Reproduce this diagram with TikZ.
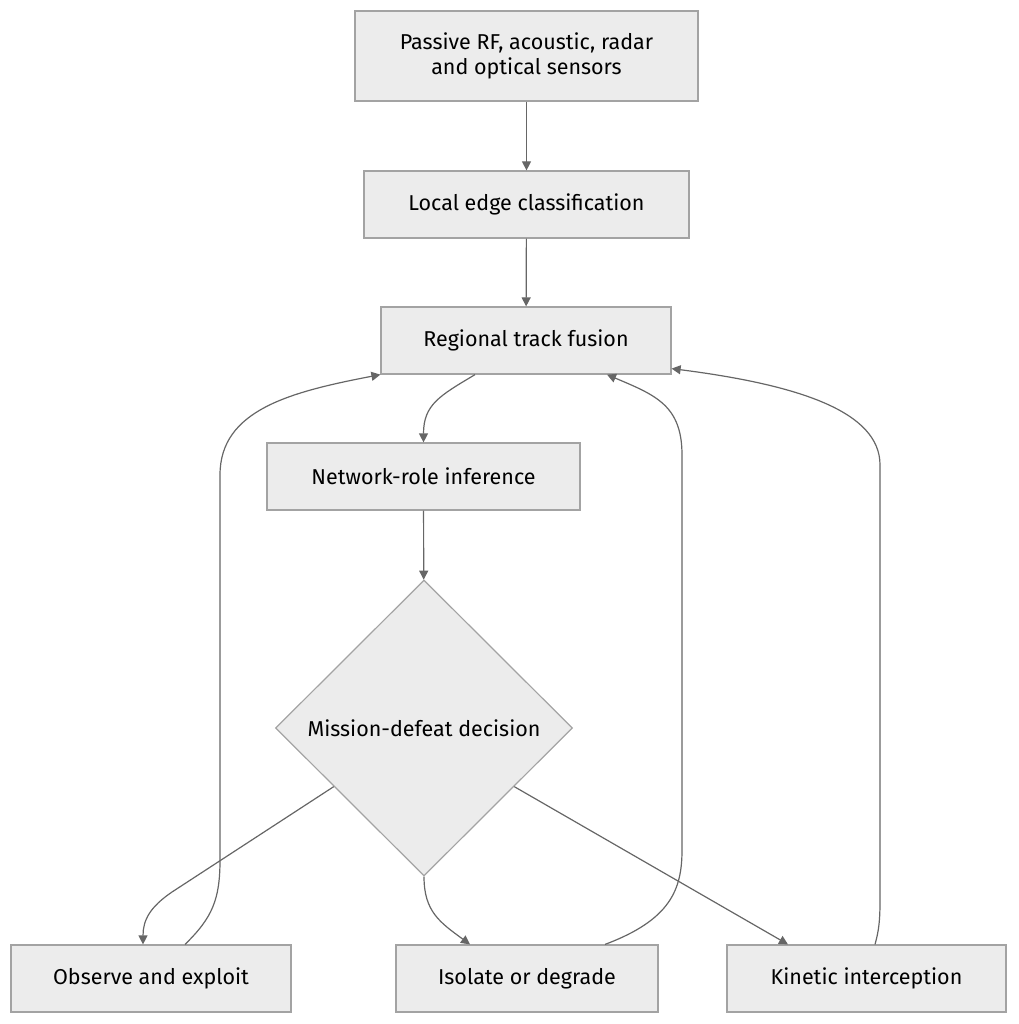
\documentclass[tikz,border=0pt]{standalone}
\usepackage{fontspec}
\setmainfont{Fira Sans}
\usepackage{tikz}
\usetikzlibrary{positioning, shapes.geometric, arrows.meta}
\usepackage{xcolor}
\definecolor{boxfill}{HTML}{ECECEC}
\definecolor{boxline}{HTML}{A3A3A3}
\definecolor{edgeline}{HTML}{666666}

\begin{document}
\begin{tikzpicture}[x=1pt, y=-1pt,
  box/.style={draw=boxline, fill=boxfill, line width=1.2pt, minimum height=67pt, inner sep=0pt, align=center, font=\fontsize{21.5}{25}\selectfont},
  >={Triangle[length=9pt, width=9pt]}]
\useasboundingbox (0,0) rectangle (1018,1024);

\node[box, minimum width=343pt, minimum height=90pt] (1) at (526.5,56) {Passive RF, acoustic, radar\\and optical sensors};
\node[box, minimum width=325pt] (2) at (526.5,204.5) {Local edge classification};
\node[box, minimum width=290pt] (3) at (526,340.5) {Regional track fusion};
\node[box, minimum width=313pt] (4) at (423.5,476.5) {Network-role inference};
\node[box, diamond, minimum width=297pt, minimum height=296pt] (5) at (424,728) {Mission-defeat decision};
\node[box, minimum width=280pt] (6) at (151,978.5) {Observe and exploit};
\node[box, minimum width=262pt] (7) at (527,978.5) {Isolate or degrade};
\node[box, minimum width=279pt] (8) at (866.5,978.5) {Kinetic interception};

\draw[->, edgeline, line width=1.2pt] (1) -- (2);
\draw[->, edgeline, line width=1.2pt] (2) -- (3);
\draw[->, edgeline, line width=1.2pt] ([xshift=-51pt]3.south) .. controls +(-35,21) and +(0,-38) .. (4.north);
\draw[->, edgeline, line width=1.2pt] (4) -- (5);

\draw[->, edgeline, line width=1.2pt] (5.213) -- (172,892) .. controls (150,907) and (143,920) .. ([xshift=-8pt]6.north);
\draw[->, edgeline, line width=1.2pt] (5.south) .. controls +(0,35) and +(-30,-22) .. ([xshift=-57pt]7.north);
\draw[->, edgeline, line width=1.2pt] (5.-33) -- ([xshift=-78.5pt]8.north);

\draw[->, edgeline, line width=1.2pt] ([xshift=34pt]6.north) .. controls (212,918) and (220,900) .. (220,860) -- (220,475) .. controls (220,410) and (290,392) .. (3.south west);
\draw[->, edgeline, line width=1.2pt] ([xshift=78pt]7.north) .. controls (670,920) and (682,890) .. (682,850) -- (682,455) .. controls (682,405) and (655,395) .. ([xshift=81pt]3.south);
\draw[->, edgeline, line width=1.2pt] ([xshift=8.5pt]8.north) .. controls (879,930) and (880,920) .. (880,900) -- (880,465) .. controls (880,412) and (800,385) .. ([yshift=6pt]3.south east);
\end{tikzpicture}
\end{document}
